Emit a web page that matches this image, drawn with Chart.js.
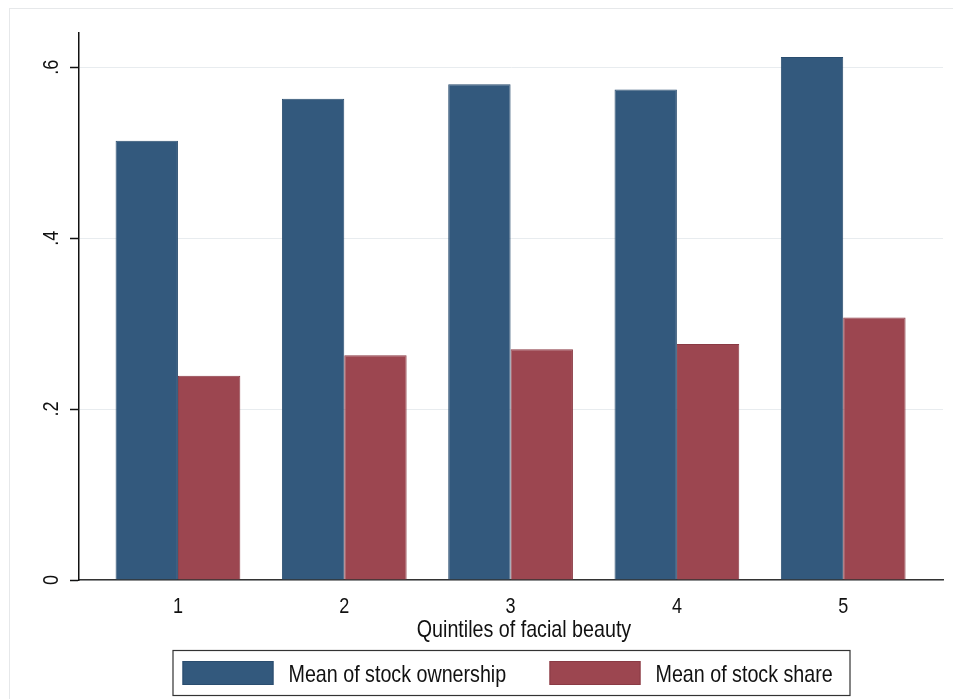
<!DOCTYPE html>
<html>
<head>
<meta charset="utf-8">
<script src="https://cdn.jsdelivr.net/npm/chart.js@4.4.1/dist/chart.umd.min.js"></script>
<style>
  html, body { margin: 0; padding: 0; background: #ffffff; overflow: hidden; }
  canvas { display: block; }
</style>
</head>
<body>
<canvas id="chart" width="953" height="699"></canvas>
<script>
// Quintiles of facial beauty and the two outcome means
const quintiles = [1, 2, 3, 4, 5];
const stockOwnership = [0.514, 0.563, 0.580, 0.574, 0.612];
const stockShare = [0.239, 0.263, 0.270, 0.276, 0.307];
const yTicks = [0, 0.2, 0.4, 0.6];
const seriesNames = ['Mean of stock ownership', 'Mean of stock share'];
const xTitle = 'Quintiles of facial beauty';

const FONT = '"Liberation Sans", Arial, sans-serif';
const NARROW = 0.82;          // horizontal squeeze for an Arial Narrow look
const TEXT = '#111111';
const BLUE = '#33597d';
const RED = '#9c4650';

// Stata-style value labels: ".2", ".4", ".6"
function stataNumber(v) {
  return v === 0 ? '0' : String(Math.round(v * 10) / 10).replace(/^0/, '');
}

// condensed text helper; angle in radians
function narrowText(ctx, str, x, y, size, align, baseline, angle) {
  ctx.save();
  ctx.translate(x, y);
  if (angle) ctx.rotate(angle);
  ctx.scale(NARROW, 1);
  ctx.font = size + 'px ' + FONT;
  ctx.textAlign = align;
  ctx.textBaseline = baseline;
  ctx.fillStyle = TEXT;
  ctx.fillText(str, 0, 0);
  ctx.restore();
}

// Faint frame around the whole graph region
const outerFrame = {
  id: 'outerFrame',
  beforeDraw(chart) {
    const ctx = chart.ctx;
    ctx.save();
    ctx.strokeStyle = '#e6e8ea';
    ctx.lineWidth = 1;
    ctx.strokeRect(9.5, 8.5, chart.width + 20, chart.height + 20);
    ctx.restore();
  }
};

// Tick labels, axis title and the boxed legend
const textLayer = {
  id: 'textLayer',
  afterDraw(chart) {
    const ctx = chart.ctx;
    const area = chart.chartArea;
    const xs = chart.scales.x;
    const ys = chart.scales.y;

    xs.ticks.forEach(t => {
      narrowText(ctx, String(t.value), xs.getPixelForValue(t.value), area.bottom + 33, 22, 'center', 'alphabetic');
    });
    ys.ticks.forEach(t => {
      narrowText(ctx, stataNumber(t.value), ys.left + 58, ys.getPixelForValue(t.value), 22, 'center', 'alphabetic', -Math.PI / 2);
    });

    const mid = (area.left + area.right) / 2;
    narrowText(ctx, xTitle, mid + 13, area.bottom + 57, 24, 'center', 'alphabetic');

    // legend box
    const boxW = 677, boxH = 45;
    const boxL = mid - boxW / 2, boxT = area.bottom + 70;
    ctx.save();
    ctx.fillStyle = '#ffffff';
    ctx.fillRect(boxL, boxT, boxW, boxH);
    ctx.strokeStyle = '#333';
    ctx.lineWidth = 1.2;
    ctx.strokeRect(boxL + 0.5, boxT + 0.5, boxW, boxH);
    ctx.restore();

    const swatchW = 91, swatchH = 24;
    const starts = [boxL + 10, boxL + 377];
    chart.data.datasets.forEach((ds, i) => {
      const x = starts[i];
      const cy = boxT + boxH / 2 + 0.5;
      ctx.save();
      ctx.fillStyle = ds.backgroundColor;
      ctx.fillRect(x, cy - swatchH / 2, swatchW, swatchH);
      ctx.strokeStyle = ds.borderColor;
      ctx.lineWidth = 1;
      ctx.strokeRect(x + 0.5, cy - swatchH / 2 + 0.5, swatchW - 1, swatchH - 1);
      ctx.restore();
      narrowText(ctx, ds.label, x + swatchW + 15, cy + 8.5, 24, 'left', 'alphabetic');
    });
  }
};

const ctx = document.getElementById('chart').getContext('2d');
new Chart(ctx, {
  type: 'bar',
  data: {
    datasets: [
      {
        label: seriesNames[0],
        data: quintiles.map((q, i) => ({ x: q, y: stockOwnership[i] })),
        backgroundColor: BLUE,
        borderColor: '#2a4d6f',
        borderWidth: 1
      },
      {
        label: seriesNames[1],
        data: quintiles.map((q, i) => ({ x: q, y: stockShare[i] })),
        backgroundColor: RED,
        borderColor: '#8a3a44',
        borderWidth: 1
      }
    ]
  },
  options: {
    responsive: false,
    animation: false,
    devicePixelRatio: 1,
    categoryPercentage: 0.75,
    barPercentage: 1.0,
    layout: { padding: { top: 33, right: 10, left: 0, bottom: 0 } },
    plugins: {
      legend: { display: false },
      tooltip: { enabled: false },
      title: { display: false }
    },
    scales: {
      x: {
        type: 'linear',
        min: 0.405,
        max: 5.6,
        offset: false,
        grid: { display: false, drawTicks: false },
        border: { display: true, color: '#333', width: 1.5 },
        afterBuildTicks(scale) { scale.ticks = quintiles.map(v => ({ value: v })); },
        afterFit(scale) { scale.height = 119; },
        ticks: { display: false }
      },
      y: {
        min: 0,
        max: 0.64,
        grid: {
          color: '#e8ecef',
          lineWidth: 1,
          drawTicks: true,
          tickLength: 9,
          tickColor: '#111',
          tickWidth: 1.5
        },
        border: { display: true, color: '#111', width: 1.5 },
        afterBuildTicks(scale) { scale.ticks = yTicks.map(v => ({ value: v })); },
        afterFit(scale) { scale.width = 79; },
        ticks: { display: false }
      }
    }
  },
  plugins: [outerFrame, textLayer]
});
</script>
</body>
</html>
